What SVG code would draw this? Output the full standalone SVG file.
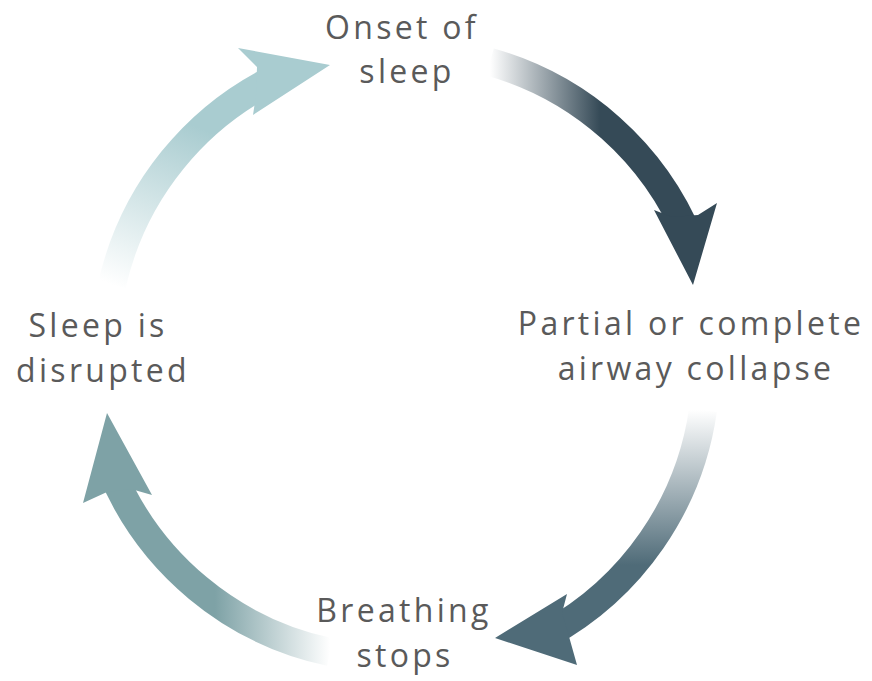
<svg xmlns="http://www.w3.org/2000/svg" width="872" height="681" viewBox="0 0 872 681">
<style>
.lbl{font-family:"Open Sans","Noto Sans","Liberation Sans",sans-serif;font-size:32px;fill:#5a5a5a;letter-spacing:3.3px;text-anchor:middle}
.band{fill:none;stroke-width:28}
</style>
<defs>
<linearGradient id="g1" gradientUnits="userSpaceOnUse" x1="490" y1="0" x2="600" y2="0">
<stop offset="0" stop-color="#354a57" stop-opacity="0"/><stop offset="1" stop-color="#354a57"/>
</linearGradient>
<linearGradient id="g2" gradientUnits="userSpaceOnUse" x1="0" y1="410" x2="0" y2="565">
<stop offset="0" stop-color="#4f6b78" stop-opacity="0"/><stop offset="1" stop-color="#4f6b78"/>
</linearGradient>
<linearGradient id="g3" gradientUnits="userSpaceOnUse" x1="330" y1="0" x2="215" y2="0">
<stop offset="0" stop-color="#7ea2a6" stop-opacity="0"/><stop offset="1" stop-color="#7ea2a6"/>
</linearGradient>
<linearGradient id="g4" gradientUnits="userSpaceOnUse" x1="112" y1="285" x2="180" y2="120">
<stop offset="0" stop-color="#a9ccd0" stop-opacity="0"/><stop offset="1" stop-color="#a9ccd0"/>
</linearGradient>
</defs>
<g id="connectors">
<path class="band" stroke="url(#g1)" d="M490 62 A305 305 0 0 1 690 240"/>
<polygon fill="#354a57" points="654,210 693,285 717,203 698,215 672,217"/>
<path class="band" stroke="url(#g2)" d="M703 410 A305 305 0 0 1 548 634"/>
<polygon fill="#4f6b78" points="567,594 495,638 577,665 568,633 562,613"/>
<path class="band" stroke="url(#g3)" d="M330 652 A305 305 0 0 1 111 470"/>
<polygon fill="#7ea2a6" points="83,503 107,413 152,495 131,489 107,492"/>
<path class="band" stroke="url(#g4)" d="M112 285 A305 305 0 0 1 282 75"/>
<polygon fill="#a9ccd0" points="238,48 330,65 253,115 256,95 257,67"/>
</g>
<g id="onset"><text class="lbl" x="402" y="39">Onset of</text><text class="lbl" x="407" y="83">sleep</text></g>
<g id="collapse"><text class="lbl" x="691" y="335">Partial or complete</text><text class="lbl" x="696" y="380">airway collapse</text></g>
<g id="breathing"><text class="lbl" x="404" y="622">Breathing</text><text class="lbl" x="405" y="667">stops</text></g>
<g id="disrupted"><text class="lbl" x="98" y="337">Sleep is</text><text class="lbl" x="103" y="382">disrupted</text></g>
</svg>
